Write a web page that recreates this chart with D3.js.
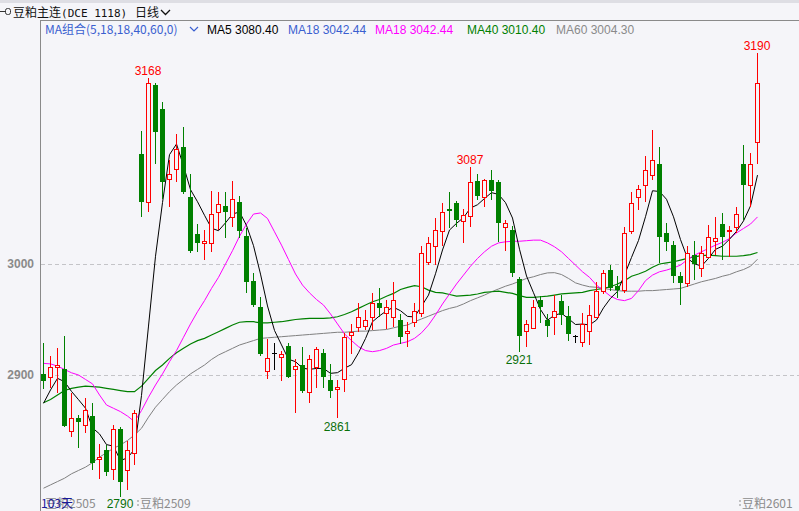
<!DOCTYPE html>
<html><head><meta charset="utf-8">
<script src="https://cdn.jsdelivr.net/npm/d3@7/dist/d3.min.js"></script>
<style>
html,body{margin:0;padding:0;background:#f5f5f9;overflow:hidden;}
svg{display:block;}
</style></head><body>
<svg id="c" width="799" height="511"></svg>
<script>
// ---- data ----
const opens  = [2901,2898.5,2907,2905,2850,2861,2855,2863,2824,2832,2815,2851.5,2814,2830,3099.5,3056,3161,3140,3077,3085.5,3105,3060.5,3027,3019,3019,3047,3052.5,3042,3055.5,3025,2984.5,2961.5,2904,2919.5,2916,2926,2905,2909,2885,2907.5,2920,2895.5,2887.5,2896,2936,2943.5,2944.5,2952,2965,2955.5,2952,2950,2937.5,2947.5,2955.5,3001.5,3016,3030,3049.5,3055,3039,3043,3074.5,3060,3076,3073.5,3033,3030.5,2986.5,2940,2942,2968,2950,2952,2967,2953,2935,2930,2940,2952,2976,2995,2980,2976.5,3030,3060,3071,3080,3090.5,3028,3017,2989,2982.5,3008,2996,3006.5,3021,3036,3029.5,3033.5,3090,3071,3109.5];
const highs  = [2929,2917,2924,2935,2883.5,2864,2879,2874.5,2837.5,2837,2855,2853.5,2840.5,2868.5,3120,3168,3163.5,3145.5,3093.5,3117.5,3123,3081,3036,3030.5,3066,3064.5,3064.5,3075,3061.5,3032,2992,2970,2932,2929,2922,2929,2914,2925,2918,2925,2923,2910,2895.5,2938,2946,2965,2959,2973.5,2978,2967.5,2984,2955,2948,2965,3016,3024,3041,3055,3065,3057,3050,3087,3081,3077,3085,3075.5,3039.5,3034,2988.5,2949.5,2968,2971,2955,2972,2972,2962,2936,2955.5,2963,2984,2994.5,2999,2989,3033,3065,3071,3097,3120.5,3105.5,3037,3021,2993,3016,3021,3016,3035,3042.5,3045.5,3034,3051,3107,3100,3190];
const lows   = [2887,2888,2884,2853.5,2844.5,2834,2848,2814.5,2806,2809,2805,2790,2796.5,2819,3042,3047,3090,3059,3051,3074,3063,3010,3011,3004,3011,3031,3023,3033.5,3023,2974,2961.5,2917,2896,2904.5,2895,2897,2865.5,2883.5,2875,2888,2888,2879,2861,2885,2919,2939,2940.5,2940.5,2952,2941,2943.5,2928,2925,2943,2952,2999.5,2999,3016,3032,3033.5,3019,3033.5,3057.5,3051.5,3058,3020,3012,2988.5,2921,2925.5,2941,2947,2934.5,2936,2945,2930.5,2929,2925,2927,2951,2973,2976,2969,2974,3027,3049,3056,3076,3001,3012,2982.5,2963,2979.5,2985.5,2988.5,3006,3008,3003.5,3006.5,3027.5,3039.5,3051,3090];
const closes = [2895,2907,2909,2854,2861,2858,2868.5,2820.5,2826.5,2813,2851,2804,2832,2865.5,3055.5,3163.5,3118.5,3073.5,3081.5,3103.5,3065,3011.5,3019,3020.5,3045,3054,3047,3058.5,3030,2984,2963,2919,2915,2919.5,2919,2898.5,2908,2886,2914,2923,2898.5,2886,2889,2934,2939,2952,2950,2965,2960.5,2961.5,2968,2934.5,2939.5,2958,3009.5,3018.5,3030.5,3046.5,3048,3039.5,3044.5,3073.5,3061.5,3076,3066,3036.5,3036.5,2992,2935.5,2945.5,2961,2961,2944,2958,2954,2936.5,2935,2946,2954,2976,2991.5,2978,2977,3028,3055,3068,3085,3094,3024.5,3020,2989,2982.5,3009.5,3000,3009.5,3024,3023,3024,3031,3045,3071,3090.5,3163];
// the four closes before the first visible day (needed for the MA5 at the left edge)
const priorCloses = [2847,2856.5,2869,2905];
// longer averages
const ma18 = [2910.5,2910,2908,2905,2902,2900,2896,2892,2882,2873,2870,2867,2863,2858,2868,2880,2891,2901,2912,2922,2934,2946,2957,2967,2978,2988,3000,3012,3025,3036,3045,3046,3041,3029,3017,3004,2991,2981,2974,2968,2963,2955,2946,2937,2931,2925.5,2922,2921,2922,2924,2927,2928.5,2930,2933,2938,2945,2954,2964,2973,2982,2990,2998,3005,3011,3016,3019,3020,3020.5,3020.5,3021,3021.5,3021.5,3019,3015.5,3011,3005,2999,2993,2988,2981,2976,2971,2968,2967,2969,2976,2985,2990,2993,2994.5,2996.5,2999,3004,3008,3011,3014,3017,3019.5,3023,3028,3032,3036,3042.4];
const ma40 = [2875,2878,2882,2886,2888,2889,2890,2889.5,2889,2888,2887,2886,2885,2885,2890,2897,2904,2909,2915,2920,2924,2928,2931,2933,2936,2939,2942,2945,2947.5,2948,2948,2947,2947,2947.5,2948,2949,2950,2950.5,2951,2951,2951,2951.5,2952.5,2954.5,2957,2960,2963,2966,2968,2971,2973.5,2977,2979,2980.5,2979.5,2976.5,2974.5,2974,2972.5,2971,2971.5,2972,2973,2974.5,2975,2975.5,2974.5,2973.5,2971.5,2970,2970,2970.5,2971,2972,2973,2973.5,2974,2974.5,2976,2977,2978,2979.5,2982,2985,2989,2991,2993.5,2997,3000,3001,3002,3003.5,3005,3006.5,3007.5,3008,3007.5,3007,3007,3007,3007.5,3008.5,3010.4];
const ma60 = [2798,2801,2804,2807,2811,2814,2817,2821,2826,2830,2834,2837,2841,2846,2852,2862,2871,2878,2885,2891,2896,2901,2905,2909,2914,2918,2921,2924,2927,2929,2931,2933,2933.5,2934,2934.5,2935,2935.5,2936,2936.5,2937,2937.5,2938,2938.5,2938.5,2939,2939.5,2939.5,2940,2940.5,2941,2942.5,2944,2945,2948,2950.5,2953,2955.5,2958,2960,2961.5,2964,2967,2969.5,2972,2975,2977.5,2980,2982,2984.5,2987,2988.5,2990.5,2992,2992.2,2990.5,2987,2983,2981,2979.5,2979,2978,2977,2976,2975.5,2975.5,2975.5,2976,2976,2976.5,2977,2977.5,2978,2980,2982,2984,2985.5,2987,2989,2990.5,2993,2995,2998,3004.3];
const yTicks = [2900, 3000];
const legendLabels = ["MA5 3080.40","MA18 3042.44","MA18 3042.44","MA40 3010.40","MA60 3004.30"];
const dayCountLabel = "103天";
const contractLabels = ["豆粕2505","豆粕2509","豆粕2601"];

// ---- styles ----
const RED="#ff0000", GREEN="#008000", BG="#f5f5f9";
const svg = d3.select("#c");
svg.append("rect").attr("width",799).attr("height",511).attr("fill",BG);
svg.append("rect").attr("width",799).attr("height",3).attr("fill","#dedee4");

const x = d3.scaleLinear().domain([0, closes.length-1]).range([43, 757]);
const y = d3.scaleLinear().domain([2900, 3000]).range([375, 264]);
const cx = i => Math.round(x(i));

// frame
svg.append("line").attr("x1",40).attr("x2",799).attr("y1",20.5).attr("y2",20.5).attr("stroke","#8a8a8a");
svg.append("line").attr("x1",40.5).attr("x2",40.5).attr("y1",21).attr("y2",511).attr("stroke","#8a8a8a");

// grid + y labels
const yAxis = d3.axisLeft(y).tickValues(yTicks).tickSize(0).tickFormat(d3.format("d"));
const ga = svg.append("g").attr("transform","translate(37,0)").call(yAxis);
ga.select(".domain").remove();
ga.selectAll("text").attr("font-family","Liberation Sans, Arial, sans-serif").attr("font-size",12)
  .attr("font-weight","bold").attr("fill","#8a8a8a").attr("dx",0);
svg.append("g").selectAll("line").data(yTicks).join("line")
  .attr("x1",41).attr("x2",799).attr("y1",d=>Math.round(y(d))+0.5).attr("y2",d=>Math.round(y(d))+0.5)
  .attr("stroke","#c4c4c8").attr("stroke-dasharray","4,3");

// title row
const t = svg.append("text").attr("x",13).attr("y",17).attr("font-size",12).attr("fill","#111")
  .attr("font-family","Noto Sans CJK SC, sans-serif");
t.append("tspan").text("豆粕主连");
t.append("tspan").attr("font-family","DejaVu Sans Mono, monospace").attr("font-size",11).text("(DCE 1118)");
svg.append("text").attr("x",135).attr("y",17).attr("font-size",12).attr("fill","#111")
  .attr("font-family","Noto Sans CJK SC, sans-serif").text("日线");
svg.append("path").attr("d","M161,10 L165.5,14.5 L170,10").attr("fill","none").attr("stroke","#111").attr("stroke-width",1.3);
// small link icon
svg.append("path").attr("d","M0,11.5 H5").attr("stroke","#333");
svg.append("rect").attr("x",5.5).attr("y",8.5).attr("width",5).attr("height",6).attr("rx",2).attr("fill","none").attr("stroke","#333");

// legend row
const LF = "Liberation Sans, Arial, sans-serif";
svg.append("text").attr("x",45).attr("y",33.5).attr("font-size",12).attr("fill","#3a5fd0")
  .attr("font-family","Noto Sans CJK SC, sans-serif").text("MA组合(5,18,18,40,60,0)");
svg.append("path").attr("d","M190,27 L194,31 L198,27").attr("fill","none").attr("stroke","#3a5fd0").attr("stroke-width",1.2);
const legColors = ["#000000","#3a5fd0","#ff00ff","#008000","#8a8a8a"];
const legX = [207,288,375,467,556];
svg.append("g").selectAll("text").data(legendLabels).join("text")
  .attr("x",(d,i)=>legX[i]).attr("y",33.5).attr("font-size",12).attr("font-family",LF)
  .attr("fill",(d,i)=>legColors[i]).text(d=>d);

// moving averages
const allC = priorCloses.concat(closes);
const ma5 = closes.map((c,i)=> d3.mean(allC.slice(i, i+5)));
const line = d3.line().x((d,i)=>x(i)+0.5).y(d=>y(d));
const lines = [[ma60,"#808080",1],[ma40,"#008000",1.2],[ma18,"#ff00ff",1],[ma5,"#000000",1]];
svg.append("g").selectAll("path").data(lines).join("path")
  .attr("d",d=>line(d[0])).attr("fill","none").attr("stroke",d=>d[1]).attr("stroke-width",d=>d[2]);

// candles
const g = svg.append("g");
closes.forEach((c,i)=>{
  const o = opens[i], h = highs[i], l = lows[i];
  const X = cx(i);
  const yH = Math.round(y(h)), yL = Math.round(y(l));
  const yT = Math.round(y(Math.max(o,c))), yB = Math.round(y(Math.min(o,c)));
  if (c > o) {
    g.append("line").attr("x1",X+0.5).attr("x2",X+0.5).attr("y1",yH).attr("y2",yT).attr("stroke",RED);
    g.append("line").attr("x1",X+0.5).attr("x2",X+0.5).attr("y1",yB+1).attr("y2",yL).attr("stroke",RED);
    g.append("rect").attr("x",X-1.5).attr("y",yT+0.5).attr("width",4).attr("height",Math.max(yB-yT,1))
      .attr("fill",BG).attr("stroke",RED);
  } else if (c < o) {
    g.append("line").attr("x1",X+0.5).attr("x2",X+0.5).attr("y1",yH).attr("y2",yL).attr("stroke",GREEN);
    g.append("rect").attr("x",X-2).attr("y",yT).attr("width",5).attr("height",Math.max(yB-yT,1)).attr("fill",GREEN);
  } else {
    g.append("line").attr("x1",X+0.5).attr("x2",X+0.5).attr("y1",yH).attr("y2",yL).attr("stroke","#000");
    g.append("line").attr("x1",X-2).attr("x2",X+3).attr("y1",yT+0.5).attr("y2",yT+0.5).attr("stroke","#000");
  }
});

// high / low markers
const hiIdx = [15,61,102], loIdx = [11,42,68];
svg.append("g").selectAll("text").data(hiIdx).join("text")
  .attr("x",i=>cx(i)).attr("y",i=>y(highs[i])-3).attr("text-anchor","middle")
  .attr("font-size",12).attr("font-family",LF).attr("fill",RED).text(i=>Math.round(highs[i]));
svg.append("g").selectAll("text").data(loIdx).join("text")
  .attr("x",i=>cx(i)).attr("y",i=>Math.min(y(lows[i])+12.5,507.5)).attr("text-anchor","middle")
  .attr("font-size",12).attr("font-family",LF).attr("fill","#0a700a").text(i=>Math.round(lows[i]));

// bottom contract labels
const cF = "Noto Sans CJK SC, sans-serif";
const cX = [45,140,742];
svg.append("g").selectAll("text").data(contractLabels).join("text")
  .attr("x",(d,i)=>cX[i]).attr("y",507.5).attr("font-size",12).attr("font-family",cF)
  .attr("fill","#8c8c8c").text(d=>d);
[137.5,739.5].forEach(px=>{
  svg.append("rect").attr("x",px).attr("y",500).attr("width",1).attr("height",2).attr("fill","#8c8c8c");
  svg.append("rect").attr("x",px).attr("y",504).attr("width",1).attr("height",2).attr("fill","#8c8c8c");
});
svg.append("text").attr("x",41).attr("y",507.5).attr("font-size",12).attr("font-family",cF)
  .attr("fill","#1a1a9a").text(dayCountLabel);
</script>
</body></html>
